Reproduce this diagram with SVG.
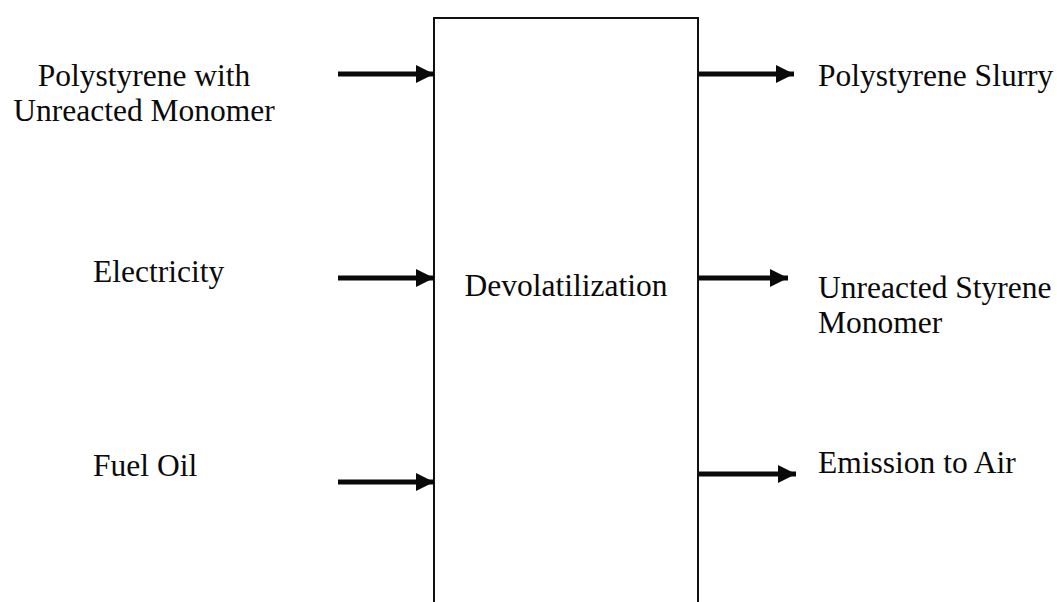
<svg xmlns="http://www.w3.org/2000/svg" width="1057" height="602" viewBox="0 0 1057 602">
  <style>
    .label { font-family: "Liberation Serif", "Times New Roman", serif; font-size: 31.5px; fill: #0a0a0a; }
    .box { fill: none; stroke: #111; stroke-width: 2; }
    .flow { fill: none; stroke: #0a0a0a; stroke-width: 5; }
  </style>
  <defs>
    <marker id="head" markerUnits="userSpaceOnUse" markerWidth="20" markerHeight="20" refX="18" refY="10" orient="auto">
      <polygon points="0,1 18,10 0,19" fill="#0a0a0a"/>
    </marker>
  </defs>
  <rect width="1057" height="602" fill="#fff"/>

  <!-- process block, open at the bottom edge -->
  <g id="devolatilization">
    <path class="box" d="M434,604 V18 H698 V604"/>
    <text class="label" x="566" y="296" text-anchor="middle">Devolatilization</text>
  </g>

  <!-- inputs -->
  <g id="in-polystyrene">
    <text class="label" x="144" y="86" text-anchor="middle">Polystyrene with</text>
    <text class="label" x="144" y="121" text-anchor="middle">Unreacted Monomer</text>
  </g>
  <g id="in-electricity">
    <text class="label" x="93" y="282">Electricity</text>
  </g>
  <g id="in-fuel-oil">
    <text class="label" x="93" y="476">Fuel Oil</text>
  </g>

  <!-- outputs -->
  <g id="out-slurry">
    <text class="label" x="818" y="86">Polystyrene Slurry</text>
  </g>
  <g id="out-styrene">
    <text class="label" x="818" y="298">Unreacted Styrene</text>
    <text class="label" x="818" y="333">Monomer</text>
  </g>
  <g id="out-emission">
    <text class="label" x="818" y="473">Emission to Air</text>
  </g>

  <!-- flow arrows -->
  <g id="connectors">
    <line class="flow" x1="338" y1="74" x2="434" y2="74" marker-end="url(#head)"/>
    <line class="flow" x1="338" y1="278" x2="434" y2="278" marker-end="url(#head)"/>
    <line class="flow" x1="338" y1="482" x2="434" y2="482" marker-end="url(#head)"/>
    <line class="flow" x1="699" y1="74" x2="794" y2="74" marker-end="url(#head)"/>
    <line class="flow" x1="699" y1="278" x2="788" y2="278" marker-end="url(#head)"/>
    <line class="flow" x1="699" y1="474" x2="796" y2="474" marker-end="url(#head)"/>
  </g>
</svg>
